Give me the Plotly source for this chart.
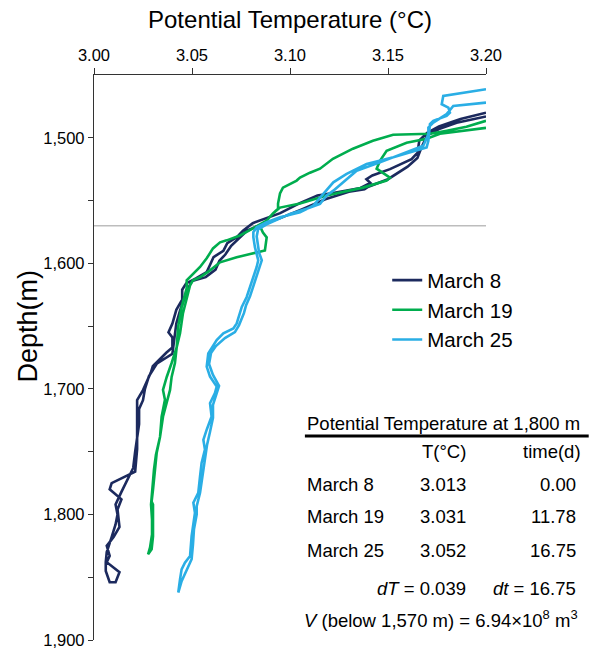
import plotly.graph_objects as go

# ---- data (temperature in °C, depth in m); each profile = down cast then up cast ----
m8_T = [3.200, 3.187, 3.176, 3.170, 3.166, 3.165, 3.162, 3.151, 3.142, 3.139, 3.141, 3.136,
        3.122, 3.114, 3.105, 3.095, 3.081, 3.076, 3.073, 3.068, 3.066, 3.061, 3.059, 3.0575,
        3.052, 3.047, 3.045, 3.045, 3.042, 3.040, 3.038, 3.040, 3.040, 3.037, 3.030, 3.029,
        3.025, 3.022, 3.022, 3.022, 3.022, 3.021, 3.009, 3.008, 3.014, 3.012, 3.013, 3.010,
        3.0065, 3.008, 3.0065, 3.013, 3.011,
        3.008, 3.006, 3.006, 3.0065, 3.009, 3.011, 3.012, 3.011, 3.014, 3.017, 3.020, 3.021,
        3.022, 3.023, 3.023, 3.025, 3.026, 3.028, 3.032, 3.040, 3.041, 3.042, 3.044, 3.046,
        3.048, 3.050, 3.057, 3.062, 3.064, 3.067, 3.070, 3.074, 3.078, 3.084, 3.095, 3.106,
        3.118, 3.130, 3.138, 3.140, 3.145, 3.150, 3.160, 3.165, 3.167, 3.170, 3.176, 3.185, 3.200]
m8_D = [1480, 1485, 1491, 1496, 1502, 1512, 1517, 1525, 1530, 1533, 1536, 1540,
        1544, 1546, 1552, 1560, 1568, 1574, 1579, 1584, 1590, 1595, 1602, 1607,
        1612, 1616, 1621, 1629, 1637, 1648, 1655, 1659, 1667, 1671, 1682, 1687,
        1701, 1709, 1722, 1735, 1748, 1766, 1775, 1780, 1788, 1796, 1810, 1818,
        1825, 1833, 1838, 1846, 1854,
        1854, 1845, 1838, 1830, 1818, 1808, 1800, 1792, 1782, 1772, 1763, 1750,
        1740, 1728, 1716, 1709, 1700, 1690, 1680, 1672, 1660, 1648, 1637, 1628,
        1620, 1614, 1611, 1605, 1598, 1593, 1586, 1580, 1574, 1570, 1564, 1557,
        1549, 1543, 1541, 1539, 1536, 1533, 1523, 1516, 1508, 1498, 1493, 1488, 1483]

m19_T = [3.200, 3.190, 3.180, 3.1714, 3.1526, 3.1423, 3.1321, 3.1219, 3.1153, 3.1102, 3.1051,
         3.1034, 3.0964, 3.0949, 3.0939, 3.0939, 3.0913, 3.0881, 3.0811, 3.0745, 3.0677, 3.0643,
         3.0607, 3.0575, 3.0541, 3.049, 3.0473, 3.0473, 3.0447, 3.0429, 3.0422, 3.0396, 3.0371,
         3.0352, 3.0362, 3.0345, 3.0337, 3.032, 3.0311, 3.0301, 3.0294, 3.0301, 3.0301, 3.0294,
         3.0276,
         3.0286, 3.0296, 3.0296, 3.0291, 3.0296, 3.0306, 3.0316, 3.0337, 3.0352, 3.0371, 3.0388,
         3.0396, 3.0413, 3.0422, 3.0439, 3.0454, 3.0473, 3.049, 3.0505, 3.0541, 3.0592, 3.0643,
         3.0728, 3.083, 3.0872, 3.0881, 3.0862, 3.0847, 3.0881, 3.0913, 3.0949, 3.1051, 3.1187,
         3.1372, 3.1493, 3.151, 3.1442, 3.1459, 3.1493, 3.1595, 3.1697, 3.1765, 3.1902, 3.200]
m19_D = [1486.5, 1491.3, 1494.4, 1496.8, 1497.6, 1502.4, 1508.7, 1516.7, 1524.6, 1527.8, 1531.7,
         1534.1, 1539.7, 1544.4, 1552.4, 1556.4, 1560.3, 1565.9, 1572.2, 1577.8, 1581.7, 1583.3,
         1588.1, 1596.0, 1602.9, 1610.9, 1613.5, 1619.8, 1634.9, 1650.8, 1666.7, 1679.4, 1690.5,
         1700.8, 1708.7, 1722.2, 1738.1, 1750.8, 1766.7, 1780.2, 1789.7, 1792.1, 1817.5, 1827.8,
         1831.7,
         1826.2, 1815.9, 1804.0, 1792.1, 1780.2, 1764.3, 1752.4, 1738.1, 1722.2, 1711.1, 1700.8,
         1690.5, 1679.4, 1666.7, 1655.6, 1639.7, 1627.0, 1617.5, 1613.5, 1611.1, 1605.6, 1599.2,
         1595.2, 1591.3, 1589.7, 1579.4, 1575.4, 1570.6, 1565.9, 1560.3, 1555.6, 1552.4, 1546.0,
         1539.7, 1534.1, 1531.7, 1524.6, 1518.3, 1510.3, 1504.0, 1500.8, 1496.8, 1494.4, 1492.1]

m25_T = [3.200, 3.1782, 3.1774, 3.1808, 3.1816, 3.1799, 3.1731, 3.1714, 3.1706, 3.1697, 3.1527,
         3.1391, 3.1289, 3.1221, 3.117, 3.1119, 3.1051, 3.0949, 3.0881, 3.083, 3.0813, 3.0813,
         3.0821, 3.083, 3.0838, 3.083, 3.0813, 3.0796, 3.0779, 3.0754, 3.0745, 3.0728, 3.0711,
         3.066, 3.0626, 3.06, 3.0583, 3.0575, 3.0592, 3.0626, 3.0617, 3.0592, 3.06, 3.0575,
         3.0558, 3.0566, 3.0549, 3.0541, 3.0532, 3.0507, 3.0515, 3.0498, 3.049, 3.0464, 3.0447,
         3.0439, 3.043,
         3.0447, 3.0473, 3.0498, 3.0505, 3.051, 3.0524, 3.0524, 3.0541, 3.0551, 3.0558, 3.0571,
         3.0577, 3.0592, 3.0607, 3.0607, 3.0628, 3.0638, 3.0607, 3.0587, 3.0597, 3.0622, 3.0668,
         3.0719, 3.074, 3.0765, 3.0776, 3.0796, 3.0811, 3.0827, 3.0842, 3.0856, 3.0842, 3.0837,
         3.083, 3.0837, 3.0881, 3.1, 3.1085, 3.1153, 3.1187, 3.1221, 3.134, 3.1459, 3.1595,
         3.168, 3.1706, 3.1706, 3.1731, 3.1799, 3.1833, 3.200]
m25_D = [1461.3, 1466.7, 1473.3, 1476.0, 1479.9, 1482.5, 1486.5, 1489.1, 1502.4, 1507.7, 1515.6,
         1520.9, 1528.8, 1535.5, 1544.7, 1554.0, 1559.3, 1563.3, 1567.2, 1571.2, 1575.2, 1579.1,
         1587.1, 1592.3, 1597.6, 1602.9, 1610.9, 1618.8, 1626.8, 1634.7, 1639.9, 1647.9, 1651.8,
         1655.8, 1661.1, 1667.7, 1671.7, 1682.3, 1690.2, 1698.2, 1703.4, 1711.4, 1722.0, 1732.5,
         1740.5, 1748.4, 1759.0, 1769.6, 1782.8, 1790.7, 1798.7, 1817.2, 1833.1, 1838.4, 1843.7,
         1851.6, 1862.2,
         1853.2, 1843.7, 1835.7, 1823.8, 1811.9, 1800.0, 1793.4, 1782.8, 1772.2, 1764.3, 1754.0,
         1744.4, 1734.1, 1723.0, 1712.7, 1703.2, 1697.6, 1688.9, 1680.2, 1671.4, 1665.9, 1659.5,
         1654.8, 1649.2, 1639.7, 1633.3, 1626.2, 1619.1, 1611.1, 1603.2, 1597.6, 1591.3, 1585.7,
         1578.6, 1573.0, 1569.0, 1560.6, 1556.6, 1552.6, 1546.0, 1542.1, 1526.2, 1519.6, 1511.7,
         1506.3, 1497.1, 1491.8, 1487.9, 1481.2, 1474.6, 1472.0]

series_names = ["March 8", "March 19", "March 25"]
series_colors = ["#1c2a5e", "#00ad4e", "#2aaee5"]

ref_depth = 1570
x_ticks = [3.00, 3.05, 3.10, 3.15, 3.20]
y_ticks = [1500, 1600, 1700, 1800, 1900]

table_title = "Potential Temperature at 1,800 m"
table_rows = ["March 8", "March 19", "March 25"]
table_T = ["3.013", "3.031", "3.052"]
table_time = ["0.00", "11.78", "16.75"]
dT_text = "<i>dT</i> = 0.039"
dt_text = "<i>dt</i> = 16.75"
V_text = "<i>V</i> (below 1,570 m) = 6.94×10<sup>8</sup> m<sup>3</sup>"

FONT = "Arial, Liberation Sans, sans-serif"

fig = go.Figure()
fig.add_shape(type="line", xref="paper", x0=0, x1=1, yref="y", y0=ref_depth, y1=ref_depth,
              line=dict(color="#bdbdbd", width=1.5), layer="below")

for name, col, T, D in zip(series_names, series_colors,
                           [m8_T, m19_T, m25_T], [m8_D, m19_D, m25_D]):
    fig.add_trace(go.Scatter(x=T, y=D, mode="lines", name=name,
                             line=dict(color=col, width=2.6), cliponaxis=True))

ann = []
def A(x, y, text, xa="left", size=18.5, angle=0):
    ann.append(dict(xref="paper", yref="paper", x=x, y=y, text=text, showarrow=False,
                    xanchor=xa, yanchor="middle", textangle=angle,
                    font=dict(size=size, color="#000", family=FONT)))

# y-axis title (placed like the reference, above the axis centre)
A(-0.168, 0.555, "Depth(m)", "center", 27, -90)

A(0.538, 0.384, table_title, "left", 18.5)
A(0.954, 0.333, "T(°C)", "right")
A(1.247, 0.333, "time(d)", "right")
for i, (r, t, d) in enumerate(zip(table_rows, table_T, table_time)):
    yy = [0.276, 0.218, 0.159][i]
    A(0.538, yy, r, "left")
    A(0.954, yy, t, "right")
    A(1.235, yy, d, "right")
A(0.954, 0.092, dT_text, "right")
A(1.235, 0.092, dt_text, "right")
A(0.531, 0.037, V_text, "left")

fig.add_shape(type="line", xref="paper", yref="paper", x0=0.538, x1=1.262, y0=0.361, y1=0.361,
              line=dict(color="#000", width=3))

fig.update_layout(
    width=594, height=651,
    margin=dict(l=94, r=108, t=75, b=11),
    paper_bgcolor="white", plot_bgcolor="white",
    font=dict(family=FONT, color="#000"),
    annotations=ann,
    showlegend=True,
    legend=dict(x=0.748, y=0.672, xanchor="left", yanchor="top",
                font=dict(size=20.5, family=FONT), bgcolor="rgba(0,0,0,0)",
                itemwidth=30, tracegroupgap=0),
    xaxis=dict(side="top", range=[3.0, 3.2], tickvals=x_ticks, tickformat=".2f",
               showline=True, linecolor="#333", linewidth=1.3, ticks="outside",
               ticklen=6, tickcolor="#333", showgrid=False, zeroline=False,
               tickfont=dict(size=16.5), automargin=False,
               title=dict(text="Potential Temperature (°C)", font=dict(size=24), standoff=10)),
    yaxis=dict(range=[1900, 1450], tickvals=y_ticks, tickformat=",d",
               showline=True, linecolor="#333", linewidth=1.3, ticks="outside",
               ticklen=5, tickcolor="#333", showgrid=False, zeroline=False,
               tickfont=dict(size=16.5), automargin=False,
               minor=dict(tickvals=[1550, 1650, 1750, 1850], ticks="outside", ticklen=5,
                          tickcolor="#333")),
)

fig.write_html("out.html")
